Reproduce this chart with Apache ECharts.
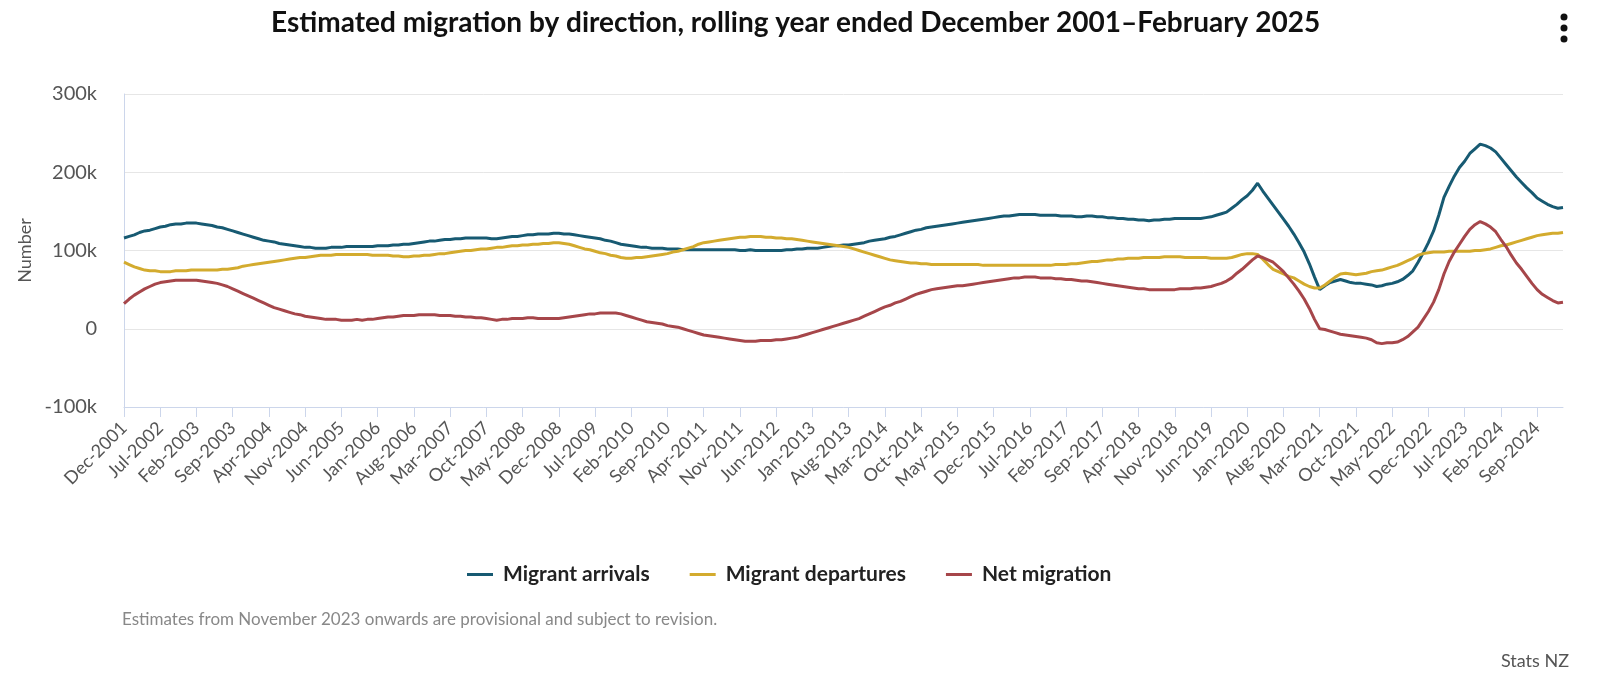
<!DOCTYPE html>
<html>
<head>
<meta charset="utf-8">
<title>Estimated migration by direction</title>
<script src="https://cdn.jsdelivr.net/npm/echarts@6/dist/echarts.min.js"></script>
<style>
  html, body { margin: 0; padding: 0; background: #ffffff; }
  #chart { width: 1600px; height: 679px; }
</style>
</head>
<body>
<div id="chart"></div>
<script>
// Monthly rolling-year totals, in thousands, Dec 2001 .. Feb 2025 (279 months)
var firstMonth = { year: 2001, month: 11 };
var monthNames = ["Jan", "Feb", "Mar", "Apr", "May", "Jun", "Jul", "Aug", "Sep", "Oct", "Nov", "Dec"];

var arrivals = [
  116,
  118, 120, 123, 125, 126, 128, 130, 131, 133, 134, 134, 135,
  135, 135, 134, 133, 132, 130, 129, 127, 125, 123, 121, 119,
  117, 115, 113, 112, 111, 109, 108, 107, 106, 105, 104, 104,
  103, 103, 103, 104, 104, 104, 105, 105, 105, 105, 105, 105,
  106, 106, 106, 107, 107, 108, 108, 109, 110, 111, 112, 112,
  113, 114, 114, 115, 115, 116, 116, 116, 116, 116, 115, 115,
  116, 117, 118, 118, 119, 120, 120, 121, 121, 121, 122, 122,
  121, 121, 120, 119, 118, 117, 116, 115, 113, 112, 110, 108,
  107, 106, 105, 104, 104, 103, 103, 103, 102, 102, 102, 101,
  101, 101, 101, 101, 101, 101, 101, 101, 101, 101, 100, 100,
  101, 100, 100, 100, 100, 100, 100, 101, 101, 102, 102, 103,
  103, 103, 104, 105, 106, 106, 107, 107, 108, 109, 110, 112,
  113, 114, 115, 117, 118, 120, 122, 124, 126, 127, 129, 130,
  131, 132, 133, 134, 135, 136, 137, 138, 139, 140, 141, 142,
  143, 144, 144, 145, 146, 146, 146, 146, 145, 145, 145, 145,
  144, 144, 144, 143, 143, 144, 144, 143, 143, 142, 142, 141,
  141, 140, 140, 139, 139, 138, 139, 139, 140, 140, 141, 141,
  141, 141, 141, 141, 142, 143, 145, 147, 149, 154, 159, 165,
  170, 177, 186, 176, 167, 158, 149, 140, 131, 121, 110, 98,
  83, 66, 50, 55, 59, 61, 63, 61, 59, 58, 58, 57,
  56, 54, 55, 57, 58, 60, 63, 68, 74, 85, 97, 110,
  125, 145, 168, 182, 195, 206, 214, 224, 230, 236, 234, 231,
  226, 218, 210, 202, 194, 187, 180, 174, 167, 163, 159, 156,
  154, 155
];

var departures = [
  85,
  82, 79, 77, 75, 74, 74, 73, 73, 73, 74, 74, 74,
  75, 75, 75, 75, 75, 75, 76, 76, 77, 78, 80, 81,
  82, 83, 84, 85, 86, 87, 88, 89, 90, 91, 91, 92,
  93, 94, 94, 94, 95, 95, 95, 95, 95, 95, 95, 94,
  94, 94, 94, 93, 93, 92, 92, 93, 93, 94, 94, 95,
  96, 96, 97, 98, 99, 100, 100, 101, 102, 102, 103, 104,
  104, 105, 106, 106, 107, 107, 108, 108, 109, 109, 110, 110,
  109, 108, 106, 104, 102, 101, 99, 97, 96, 94, 93, 91,
  90, 90, 91, 91, 92, 93, 94, 95, 96, 98, 99, 101,
  103, 105, 108, 110, 111, 112, 113, 114, 115, 116, 117, 117,
  118, 118, 118, 117, 117, 116, 116, 115, 115, 114, 113, 112,
  111, 110, 109, 108, 107, 106, 105, 104, 102, 100, 98, 96,
  94, 92, 90, 88, 87, 86, 85, 84, 84, 83, 83, 82,
  82, 82, 82, 82, 82, 82, 82, 82, 82, 81, 81, 81,
  81, 81, 81, 81, 81, 81, 81, 81, 81, 81, 81, 82,
  82, 82, 83, 83, 84, 85, 86, 86, 87, 88, 88, 89,
  89, 90, 90, 90, 91, 91, 91, 91, 92, 92, 92, 92,
  91, 91, 91, 91, 91, 90, 90, 90, 90, 91, 93, 95,
  96, 96, 95, 89, 82, 76, 73, 70, 67, 65, 61, 57,
  54, 52, 52, 56, 61, 66, 70, 71, 70, 69, 70, 71,
  73, 74, 75, 77, 79, 81, 84, 87, 90, 94, 96, 97,
  98, 98, 98, 99, 99, 99, 99, 99, 100, 100, 101, 102,
  104, 106, 107, 109, 111, 113, 115, 117, 119, 120, 121, 122,
  122, 123
];

var netMigration = [
  32,
  38, 43, 47, 51, 54, 57, 59, 60, 61, 62, 62, 62,
  62, 62, 61, 60, 59, 58, 56, 54, 51, 48, 45, 42,
  39, 36, 33, 30, 27, 25, 23, 21, 19, 18, 16, 15,
  14, 13, 12, 12, 12, 11, 11, 11, 12, 11, 12, 12,
  13, 14, 15, 15, 16, 17, 17, 17, 18, 18, 18, 18,
  17, 17, 17, 16, 16, 15, 15, 14, 14, 13, 12, 11,
  12, 12, 13, 13, 13, 14, 14, 13, 13, 13, 13, 13,
  14, 15, 16, 17, 18, 19, 19, 20, 20, 20, 20, 19,
  17, 15, 13, 11, 9, 8, 7, 6, 4, 3, 2, 0,
  -2, -4, -6, -8, -9, -10, -11, -12, -13, -14, -15, -16,
  -16, -16, -15, -15, -15, -14, -14, -13, -12, -11, -9, -7,
  -5, -3, -1, 1, 3, 5, 7, 9, 11, 13, 16, 19,
  22, 25, 28, 30, 33, 35, 38, 41, 44, 46, 48, 50,
  51, 52, 53, 54, 55, 55, 56, 57, 58, 59, 60, 61,
  62, 63, 64, 65, 65, 66, 66, 66, 65, 65, 65, 64,
  64, 63, 63, 62, 61, 61, 60, 59, 58, 57, 56, 55,
  54, 53, 52, 51, 51, 50, 50, 50, 50, 50, 50, 51,
  51, 51, 52, 52, 53, 54, 56, 58, 61, 65, 71, 76,
  82, 88, 93, 91, 88, 85, 79, 73, 65, 57, 48, 38,
  26, 12, 0, -1, -3, -5, -7, -8, -9, -10, -11, -12,
  -14, -18, -19, -18, -18, -17, -14, -10, -4, 2, 12, 22,
  34, 50, 70, 86, 98, 108, 118, 127, 133, 137, 134, 130,
  124, 114, 105, 94, 84, 76, 67, 58, 50, 44, 40, 36,
  33, 34
];

var seriesNames = ["Migrant arrivals", "Migrant departures", "Net migration"];
var seriesColors = ["#175a72", "#d3ab2e", "#a6464a"];
var yTicks = { min: -100, max: 300, step: 100 };

(function () {
  var fontFamily = "Lato, 'Noto Sans', sans-serif";

  function buildCategories(count) {
    var labels = [];
    for (var i = 0; i < count; i++) {
      var m = firstMonth.month + i;
      var year = firstMonth.year + Math.floor(m / 12);
      labels.push(monthNames[m % 12] + "-" + year);
    }
    return labels;
  }

  function formatAxisTick(value) {
    return value === 0 ? "0" : value + "k";
  }

  var categories = buildCategories(arrivals.length);
  var seriesData = [arrivals, departures, netMigration];

  var chart = echarts.init(document.getElementById("chart"), null, { renderer: "canvas" });

  chart.setOption({
    animation: false,
    backgroundColor: "#ffffff",
    textStyle: { fontFamily: fontFamily },
    title: {
      text: "Estimated migration by direction, rolling year ended December 2001\u2013February 2025",
      left: 266,
      top: 4,
      textStyle: { fontSize: 28, fontWeight: "bold", color: "#111111", fontFamily: fontFamily }
    },
    legend: {
      data: seriesNames,
      left: 462,
      top: 559,
      itemGap: 40,
      itemWidth: 26,
      itemHeight: 3,
      icon: "rect",
      textStyle: { fontSize: 21, fontWeight: "bold", color: "#222222", padding: [0, 0, 0, 5] }
    },
    grid: { left: 124, right: 37, top: 94, bottom: 272 },
    xAxis: {
      type: "category",
      data: categories,
      boundaryGap: false,
      axisLine: { onZero: false, lineStyle: { color: "#ccd6eb", width: 1 } },
      axisTick: { interval: 6, length: 10, lineStyle: { color: "#ccd6eb" } },
      axisLabel: {
        interval: 6,
        rotate: 45,
        margin: 18,
        fontSize: 18,
        color: "#555555"
      },
      splitLine: { show: false }
    },
    yAxis: {
      type: "value",
      min: yTicks.min,
      max: yTicks.max,
      interval: yTicks.step,
      name: "Number",
      nameLocation: "middle",
      nameGap: 88,
      nameTextStyle: { fontSize: 18, color: "#555555" },
      axisLine: { show: true, lineStyle: { color: "#ccd6eb" } },
      axisTick: { show: false },
      axisLabel: { fontSize: 20, color: "#555555", margin: 27, formatter: formatAxisTick },
      splitLine: { lineStyle: { color: "#e6e6e6" } }
    },
    series: seriesData.map(function (values, idx) {
      return {
        name: seriesNames[idx],
        type: "line",
        data: values,
        showSymbol: false,
        smooth: false,
        lineStyle: { width: 3, color: seriesColors[idx] },
        itemStyle: { color: seriesColors[idx] }
      };
    }),
    graphic: [
      {
        type: "text",
        left: 122,
        top: 611,
        style: {
          text: "Estimates from November 2023 onwards are provisional and subject to revision.",
          fill: "#888888",
          font: "17px " + fontFamily
        }
      },
      {
        type: "text",
        right: 31,
        top: 652,
        style: { text: "Stats NZ", fill: "#555555", font: "18px " + fontFamily }
      },
      { type: "circle", shape: { cx: 1564, cy: 17, r: 3.5 }, style: { fill: "#111111" } },
      { type: "circle", shape: { cx: 1564, cy: 28, r: 3.5 }, style: { fill: "#111111" } },
      { type: "circle", shape: { cx: 1564, cy: 39, r: 3.5 }, style: { fill: "#111111" } }
    ]
  });
})();
</script>
</body>
</html>
